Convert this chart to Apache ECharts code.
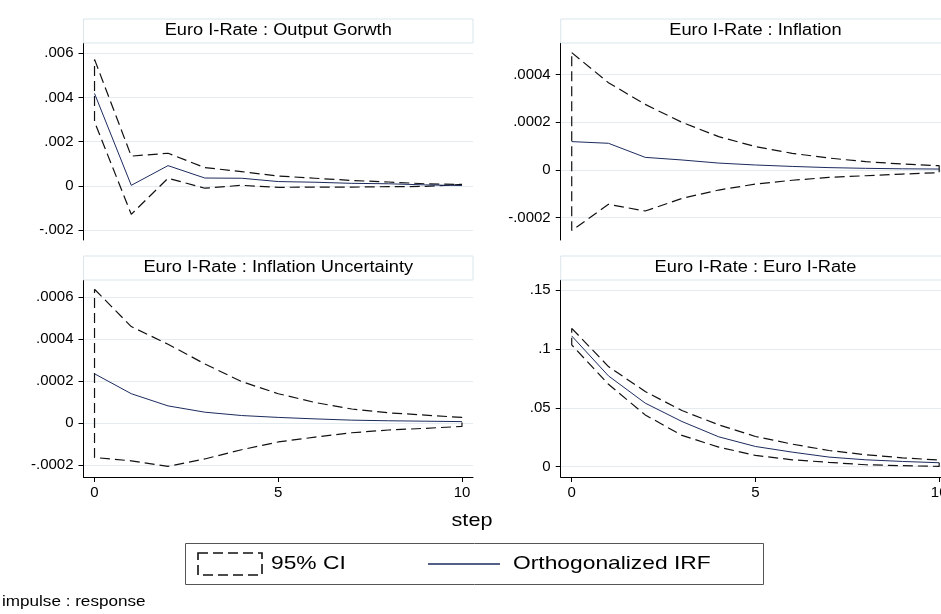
<!DOCTYPE html>
<html>
<head>
<meta charset="utf-8">
<script src="https://cdn.jsdelivr.net/npm/echarts@6/dist/echarts.min.js"></script>
<style>html,body{margin:0;padding:0;background:#fff}#c{width:941px;height:614px}</style>
</head>
<body>
<div id="c"></div>
<script>
// ---- data ----
const steps = [0,1,2,3,4,5,6,7,8,9,10];
const panelTitles = ['Euro I-Rate : Output Gorwth','Euro I-Rate : Inflation','Euro I-Rate : Inflation Uncertainty','Euro I-Rate : Euro I-Rate'];
// Output growth
const og_irf = [0.00418,0.00003,0.00092,0.00036,0.00035,0.00020,0.00017,0.00012,0.00010,0.00005,0.00002];
const og_hi  = [0.00572,0.00135,0.00148,0.00083,0.00065,0.00045,0.00035,0.00025,0.00018,0.00010,0.00007];
const og_lo  = [0.00290,-0.00128,0.00035,-0.00010,0.00003,-0.00006,-0.00005,-0.00005,-0.00003,-0.00002,-0.00001];
// Inflation
const inf_irf = [0.000119,0.000112,0.000053,0.000042,0.000029,0.000021,0.000015,0.000010,0.000007,0.000005,0.000004];
const inf_hi  = [0.000492,0.000366,0.000275,0.000200,0.000140,0.000098,0.000070,0.000050,0.000035,0.000025,0.000018];
const inf_lo  = [-0.000254,-0.000144,-0.000172,-0.000119,-0.000084,-0.000059,-0.000043,-0.000031,-0.000024,-0.000017,-0.000011];
// Inflation uncertainty
const unc_irf = [0.000235,0.000140,0.000082,0.000052,0.000036,0.000027,0.000020,0.000014,0.000011,0.000009,0.000007];
const unc_hi  = [0.000638,0.000460,0.000376,0.000282,0.000198,0.000140,0.000098,0.000067,0.000049,0.000038,0.000027];
const unc_lo  = [-0.000164,-0.000180,-0.000206,-0.000171,-0.000127,-0.000090,-0.000067,-0.000046,-0.000033,-0.000025,-0.000016];
// Euro I-Rate
const ir_irf = [0.1110,0.0771,0.0540,0.0384,0.0254,0.0172,0.0124,0.0082,0.0059,0.0045,0.0034];
const ir_hi  = [0.1175,0.0850,0.0638,0.0477,0.0356,0.0257,0.0192,0.0138,0.0102,0.0076,0.0057];
const ir_lo  = [0.1034,0.0700,0.0440,0.0266,0.0167,0.0096,0.0059,0.0037,0.0017,0.0009,0.0003];
// tick labels
const xTicks = [0,5,10];
const yTicks1 = [-0.002,0,0.002,0.004,0.006];
const yTicks2 = [-0.0002,0,0.0002,0.0004];
const yTicks3 = [-0.0002,0,0.0002,0.0004,0.0006];
const yTicks4 = [0,0.05,0.1,0.15];
const legendLabels = ['95% CI','Orthogonalized IRF'];

// ---- layout ----
const FONT = 'Liberation Sans, Arial, Helvetica, sans-serif';
const SX = 1.14; // horizontal text stretch of the reference
const GW = 389.5, GH = 197;
const panels = [
  {left:83.5, top:43, irf:og_irf, hi:og_hi, lo:og_lo, ticks:yTicks1, min:-0.00244, max:0.00646, xlab:false},
  {left:560.7, top:43, irf:inf_irf, hi:inf_hi, lo:inf_lo, ticks:yTicks2, min:-0.0002935, max:0.0005325, xlab:false},
  {left:83.5, top:280, irf:unc_irf, hi:unc_hi, lo:unc_lo, ticks:yTicks3, min:-0.000257, max:0.000682, xlab:true},
  {left:560.7, top:280, irf:ir_irf, hi:ir_hi, lo:ir_lo, ticks:yTicks4, min:-0.0087, max:0.1585, xlab:true}
];
function stata(v){
  if (Math.abs(v) < 1e-12) return '0';
  let s = parseFloat(v.toPrecision(6)).toString();
  return s.replace(/^(-?)0\./, '$1.');
}
const NAVY = '#1c2b5e';
const grid = [], xAxis = [], yAxis = [], series = [], graphic = [];
panels.forEach((p, i) => {
  grid.push({left:p.left, top:p.top, width:GW, height:GH, containLabel:false, outerBoundsMode:'none'});
  xAxis.push({
    type:'value', gridIndex:i, min:-0.3, max:10.3,
    axisLine:{show:p.xlab, onZero:false, lineStyle:{color:'#000', width:1}},
    axisTick:{show:p.xlab, length:5, lineStyle:{color:'#000'}, customValues:xTicks},
    axisLabel:{show:p.xlab, color:'#000', fontFamily:FONT, fontSize:15, margin:8, customValues:xTicks, formatter:v=>String(v)},
    splitLine:{show:false}
  });
  yAxis.push({
    type:'value', gridIndex:i, min:p.min, max:p.max,
    axisLine:{show:true, onZero:false, lineStyle:{color:'#000', width:1}},
    axisTick:{show:true, length:5, lineStyle:{color:'#000'}, customValues:p.ticks},
    axisLabel:{color:'#000', fontFamily:FONT, fontSize:15, margin:10, customValues:p.ticks, formatter:stata},
    splitLine:{show:true, lineStyle:{color:'#e4ecf1', width:1}}
  });
  const ci = p.hi.map((v,k)=>[steps[k], v])
    .concat(p.lo.map((v,k)=>[steps[k], v]).reverse())
    .concat([[steps[0], p.hi[0]]]);
  series.push({
    name:legendLabels[0], type:'line', xAxisIndex:i, yAxisIndex:i, data:ci,
    symbol:'none', silent:true, clip:false,
    lineStyle:{color:'#111', width:1.2, type:[10,5]}, animation:false
  });
  series.push({
    name:legendLabels[1], type:'line', xAxisIndex:i, yAxisIndex:i,
    data:p.irf.map((v,k)=>[steps[k], v]),
    symbol:'none', silent:true,
    lineStyle:{color:NAVY, width:1}, animation:false
  });
  // title box
  graphic.push({type:'rect', shape:{x:p.left, y:p.top-24, width:GW, height:24},
    style:{fill:'#fff', stroke:'#dbe5ec', lineWidth:1}, z:10});
  graphic.push({type:'text', x:p.left+GW/2, y:p.top-12, scaleX:SX,
    style:{text:panelTitles[i], fill:'#000', font:'16px '+FONT, align:'center', verticalAlign:'middle'}, z:11});
});
// x-axis title
graphic.push({type:'text', x:472, y:521, scaleX:SX, style:{text:'step', fill:'#000', font:'19px '+FONT, align:'center', verticalAlign:'middle'}});
// legend
graphic.push({type:'rect', shape:{x:185.5, y:543.5, width:578, height:41}, style:{fill:'#fff', stroke:'#555', lineWidth:1}});
graphic.push({type:'rect', shape:{x:198, y:553, width:64, height:22}, style:{fill:'none', stroke:'#111', lineWidth:1.6, lineDash:[10,5]}});
graphic.push({type:'text', x:271, y:564, scaleX:1.2, style:{text:legendLabels[0], fill:'#000', font:'19px '+FONT, align:'left', verticalAlign:'middle'}});
graphic.push({type:'line', shape:{x1:428, y1:564, x2:500, y2:564}, style:{stroke:NAVY, lineWidth:1.4}});
graphic.push({type:'text', x:513, y:564, scaleX:1.2, style:{text:legendLabels[1], fill:'#000', font:'19px '+FONT, align:'left', verticalAlign:'middle'}});
// note
graphic.push({type:'text', x:2, y:602, scaleX:SX, style:{text:'impulse : response', fill:'#000', font:'15px '+FONT, align:'left', verticalAlign:'middle'}});

const chart = echarts.init(document.getElementById('c'), null, {renderer:'canvas'});
chart.setOption({backgroundColor:'#fff', animation:false, grid, xAxis, yAxis, series, graphic});
</script>
</body>
</html>
